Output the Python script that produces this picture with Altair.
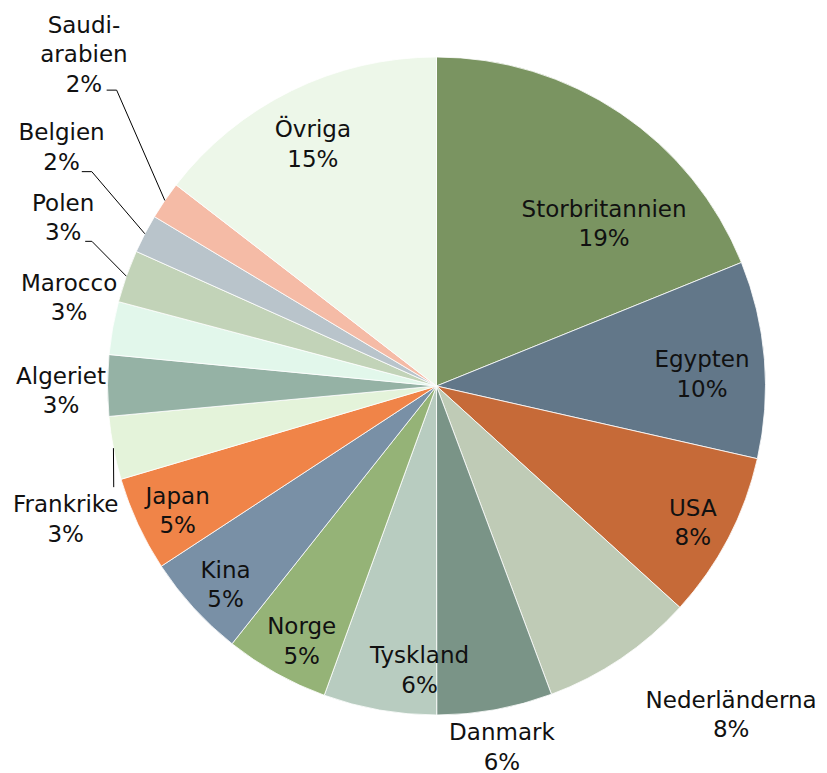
import math
import altair as alt
import pandas as pd

# ---- data ----
names = ["Storbritannien", "Egypten", "USA", "Nederländerna", "Danmark", "Tyskland",
         "Norge", "Kina", "Japan", "Frankrike", "Algeriet", "Marocco", "Polen",
         "Belgien", "Saudiarabien", "Övriga"]
shares = [18.87, 9.67, 8.20, 7.57, 5.67, 5.55, 5.13, 5.10, 4.65, 3.10, 3.00,
          2.60, 2.58, 1.90, 1.86, 14.53]
label_names = ["Storbritannien", "Egypten", "USA", "Nederländerna", "Danmark", "Tyskland",
               "Norge", "Kina", "Japan", "Frankrike", "Algeriet", "Marocco", "Polen",
               "Belgien", "Saudi-\narabien", "Övriga"]
pct_labels = ["19%", "10%", "8%", "8%", "6%", "6%", "5%", "5%", "5%", "3%", "3%",
              "3%", "3%", "2%", "2%", "15%"]

# ---- styles ----
colors = ["#7A9461", "#627789", "#C66A38", "#BFCBB6", "#7A9487", "#B8CCC0",
          "#95B377", "#7990A6", "#F08448", "#E4F3DA", "#95B2A5", "#E2F7EB",
          "#C2D3B8", "#B9C4CB", "#F5BBA6", "#EDF7E9"]
CX, CY, R = 436.5, 386.0, 329.0
FONT_SIZE, LINE_H = 23, 29.5
# label placement: (angle nudge from slice middle in degrees, distance from centre in px)
label_place = {
    "Storbritannien": (12.1, 232.7), "Egypten": (2.3, 265.7), "USA": (0.65, 290.8),
    "Nederländerna": (-7.7, 442.2), "Danmark": (0.0, 368.0), "Tyskland": (-6.55, 285.5),
    "Norge": (-1.4, 289.2), "Kina": (-1.0, 290.4), "Japan": (-1.0, 287.6),
    "Frankrike": (-9.0, 394.3), "Algeriet": (-0.9, 375.5), "Marocco": (3.2, 377.7),
    "Polen": (4.65, 409.1), "Belgien": (4.85, 444.1), "Saudiarabien": (8.85, 483.5),
    "Övriga": (-1.0, 270.8),
}
# leader lines: offsets from label centre; "arc" = slice edge at its middle angle
leaders = {
    "Saudiarabien": [(22.7, 35.0), (32.7, 35.0), "arc"],
    "Belgien": [(20.2, 23.7), (30.2, 23.7), "arc"],
    "Polen": [(22.0, 22.7), (28.7, 22.7), "arc"],
    "Frankrike": ["arc", (48.0, -33.0)],
}

total = sum(shares)
slices = pd.DataFrame({"name": names, "share": shares, "idx": list(range(len(names)))})

rows = []
mids = {}
lab_pos = {}
cum = 0.0
for n, s, ln, pl in zip(names, shares, label_names, pct_labels):
    mid = (cum + s / 2) / total * 360.0
    cum += s
    mids[n] = mid
    dang, dist = label_place[n]
    a = math.radians(mid + dang)
    lx, ly = CX + dist * math.sin(a), CY - dist * math.cos(a)
    lab_pos[n] = (lx, ly)
    parts = (ln + "\n" + pl).split("\n")
    k = len(parts)
    for i, part in enumerate(parts):
        rows.append({"name": n, "txt": part, "x": lx,
                     "y": ly + (i - (k - 1) / 2) * LINE_H})
labels = pd.DataFrame(rows)

lrows = []
for n, pts in leaders.items():
    lx, ly = lab_pos[n]
    for k, p in enumerate(pts):
        if p == "arc":
            a = math.radians(mids[n])
            px, py = CX + R * math.sin(a), CY - R * math.cos(a)
        else:
            px, py = lx + p[0], ly + p[1]
        lrows.append({"grp": n, "ord": k, "x": px, "y": py})
lines = pd.DataFrame(lrows)

arcs = alt.Chart(slices).mark_arc(outerRadius=R, stroke="white", strokeWidth=0.8).encode(
    theta=alt.Theta("share:Q", stack=True),
    color=alt.Color("name:N", scale=alt.Scale(domain=names, range=colors), legend=None),
    order=alt.Order("idx:Q"),
    x=alt.value(CX),
    y=alt.value(CY),
)

leader = alt.Chart(lines).mark_line(color="#000000", strokeWidth=1).encode(
    x=alt.X("x:Q", scale=None, axis=None),
    y=alt.Y("y:Q", scale=None, axis=None),
    detail="grp:N",
    order="ord:Q",
)

text = alt.Chart(labels).mark_text(
    font="DejaVu Sans", fontSize=FONT_SIZE,
    align="center", baseline="middle", color="#111111"
).encode(
    x=alt.X("x:Q", scale=None, axis=None),
    y=alt.Y("y:Q", scale=None, axis=None),
    text="txt:N",
)

chart = alt.layer(arcs, leader, text).properties(
    width=827, height=773, padding=0,
    autosize=alt.AutoSizeParams(type="none"),
).configure_view(stroke=None)

chart.save("out.html", embed_options={"renderer": "svg", "actions": False})
